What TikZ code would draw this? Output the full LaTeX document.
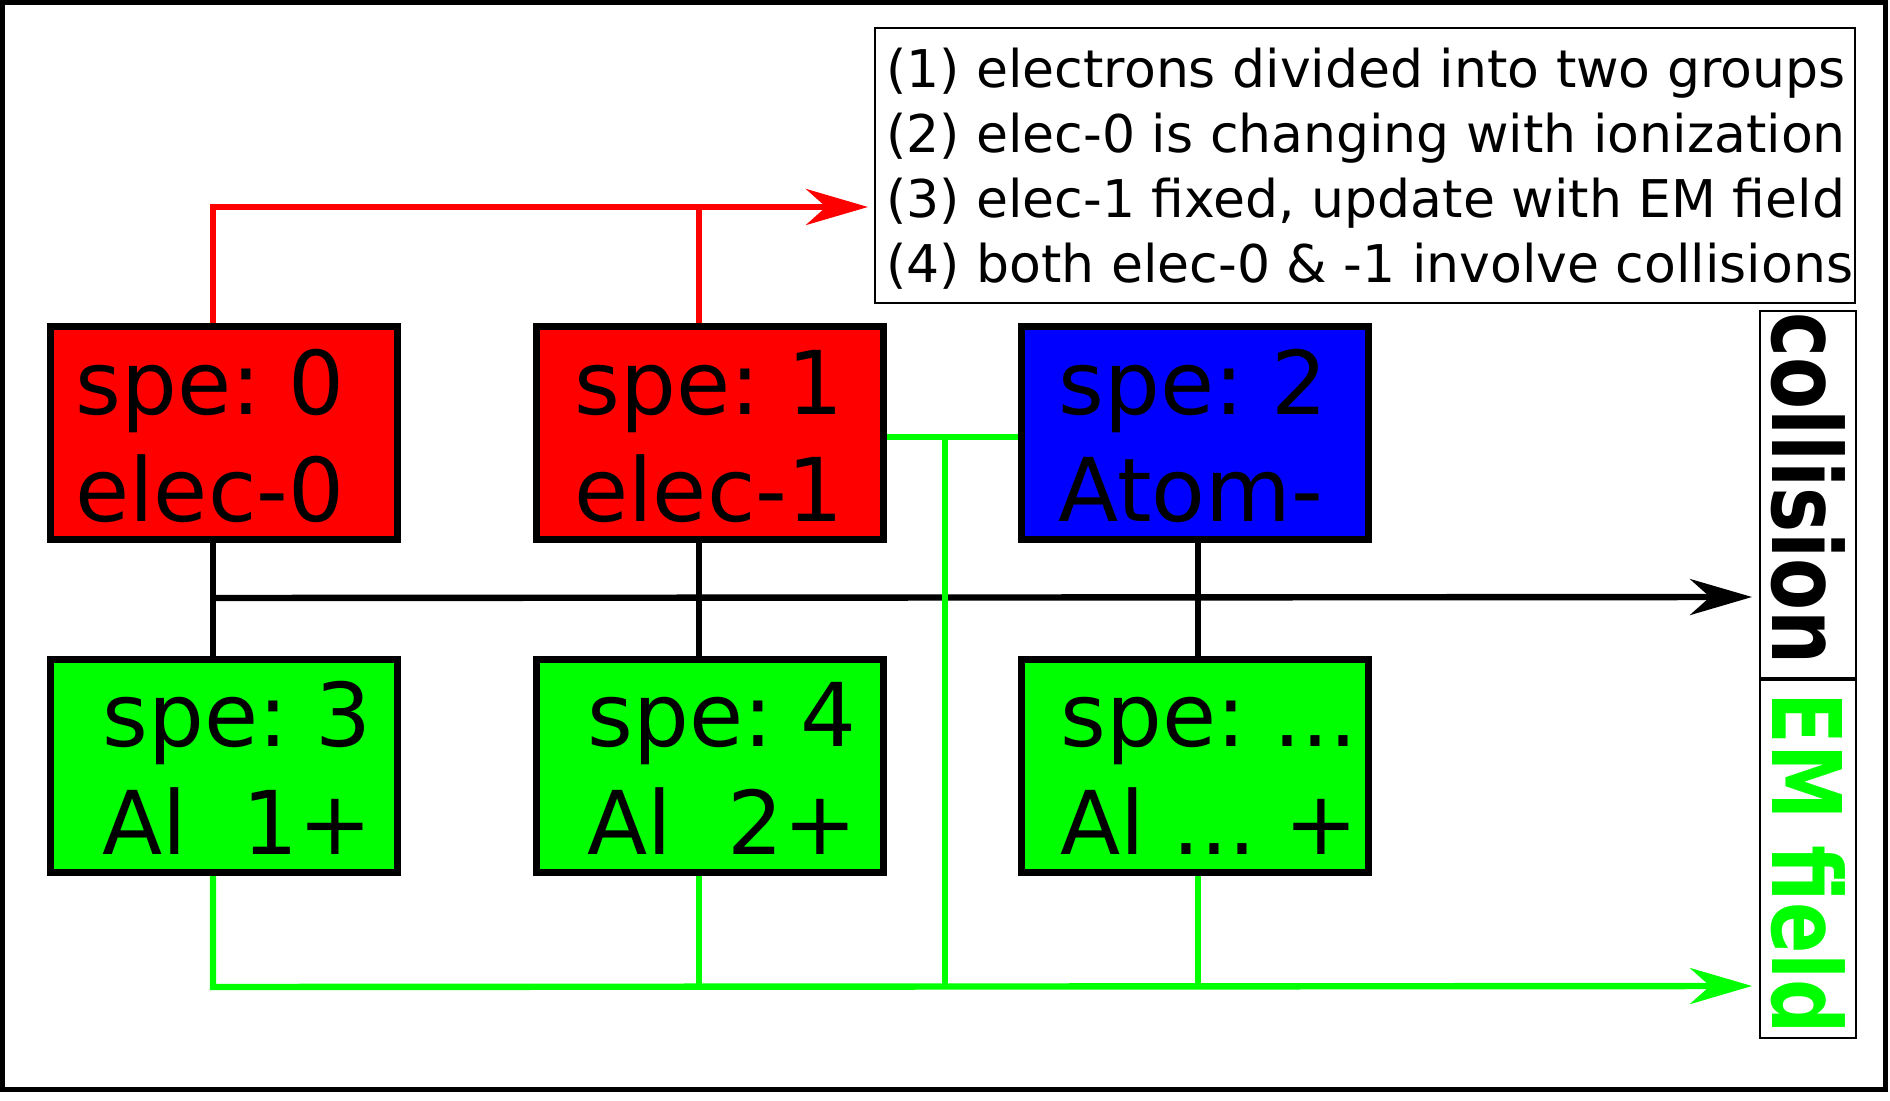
\documentclass[tikz,border=0pt]{standalone}
\usepackage{fontspec}
\setmainfont{DejaVu Sans}
\usetikzlibrary{arrows.meta,backgrounds}
\frenchspacing

\begin{document}
\begin{tikzpicture}[x=0.5pt,y=-0.5pt,
    spebox/.style={draw=black,line width=3.5pt,minimum width=173.5pt,minimum height=106.5pt,inner sep=0pt},
    spetext/.style={anchor=base west,inner sep=0pt,align=left,font=\fontsize{44}{54}\selectfont},
    thinbox/.style={draw=black,line width=1pt,inner sep=0pt},
    legtext/.style={anchor=base west,inner sep=0pt,align=left,font=\fontsize{26}{32.5}\selectfont},
    vlabel/.style={anchor=base west,inner sep=0pt,rotate=-90,xscale=0.79,font=\fontsize{48}{48}\selectfont\bfseries},
    redline/.style={draw=red,line width=3.2pt},
    blackline/.style={draw=black,line width=3.2pt},
    greenline/.style={draw=green,line width=3.2pt},
    bigtip/.style={-{Stealth[length=31pt,width=18pt,inset=10pt]}}]
      \useasboundingbox (0,0) rectangle (1890,1101);
      %Frame
      \draw[line width=2.5pt] (2.5,2.5) rectangle (1885,1089.5);
      %Species boxes
      \foreach \n/\x/\y/\c in {0/224/433/red, 1/709.5/433/red, 2/1195/433/blue,
                               3/224/766/green, 4/709.5/766/green, 5/1195/766/green}
	\node[spebox,fill=\c] (s\n) at (\x,\y) {};
      %Box texts (anchored at the last line)
      \node[spetext] (t0) at (75,522) {spe: 0\\elec-0};
      \node[spetext] (t1) at (574,522) {spe: 1\\elec-1};
      \node[spetext] (t2) at (1058,522) {spe: 2\\Atom-};
      \node[spetext] (t3) at (102,854) {spe: 3\\Al~~1+};
      \node[spetext] (t4) at (587,854) {spe: 4\\Al~~2+};
      \node[spetext] (t5) at (1060,854) {spe: ...\\Al ... +};
      %Notes
      \node[thinbox,minimum width=490pt,minimum height=137.5pt] (legbox) at (1365,165.5) {};
      \node[legtext] (legt) at (886,283) {(1) electrons divided into two groups\\
        (2) elec-0 is changing with ionization\\
        (3) elec-1 fixed, update with EM field\\
        (4) both elec-0 \& -1 involve collisions};
      %Targets
      \node[thinbox,minimum width=48pt,minimum height=183.5pt] (collbox) at (1808,494.5) {};
      \node[thinbox,minimum width=48pt,minimum height=179pt] (embox) at (1808,859) {};
      \node[vlabel] (lcoll) at (1772,312) {collision};
      \node[vlabel,text=green] (lem) at (1772,692) {EM field};
      %Bus points
      \coordinate (r0) at (213,207);
      \coordinate (r1) at (699,207);
      \coordinate (rtip) at (868,207);
      \coordinate (v0) at (213,598);
      \coordinate (v1) at (699,598);
      \coordinate (v2) at (1198,598);
      \coordinate (btip) at (1752,597);
      \coordinate (g1) at (945,437);
      \coordinate (g0) at (213,987);
      \coordinate (gtip) at (1752,986);
      \begin{scope}[on background layer]
      %Red lines
      \draw[redline,bigtip] (s0.north -| r0) -- (r0) -- (rtip);
      \draw[redline] (s1.north -| r1) -- (r1);
      %Black lines
      \foreach \a/\b/\c in {s0/s3/v0, s1/s4/v1, s2/s5/v2}
	\draw[blackline] (\a.south -| \c) -- (\b.north -| \c);
      \draw[blackline,bigtip] (v0) -- (btip);
      %Green lines
      \draw[greenline] (s1.east |- g1) -- (s2.west |- g1);
      \draw[greenline] (g1) -- (g1 |- g0);
      \draw[greenline,bigtip] (s3.south -| g0) -- (g0) -- (gtip);
      \foreach \a/\c in {s4/v1, s5/v2}
	\draw[greenline] (\a.south -| \c) -- (\c |- g0);
      \end{scope}
    \end{tikzpicture}
\end{document}
